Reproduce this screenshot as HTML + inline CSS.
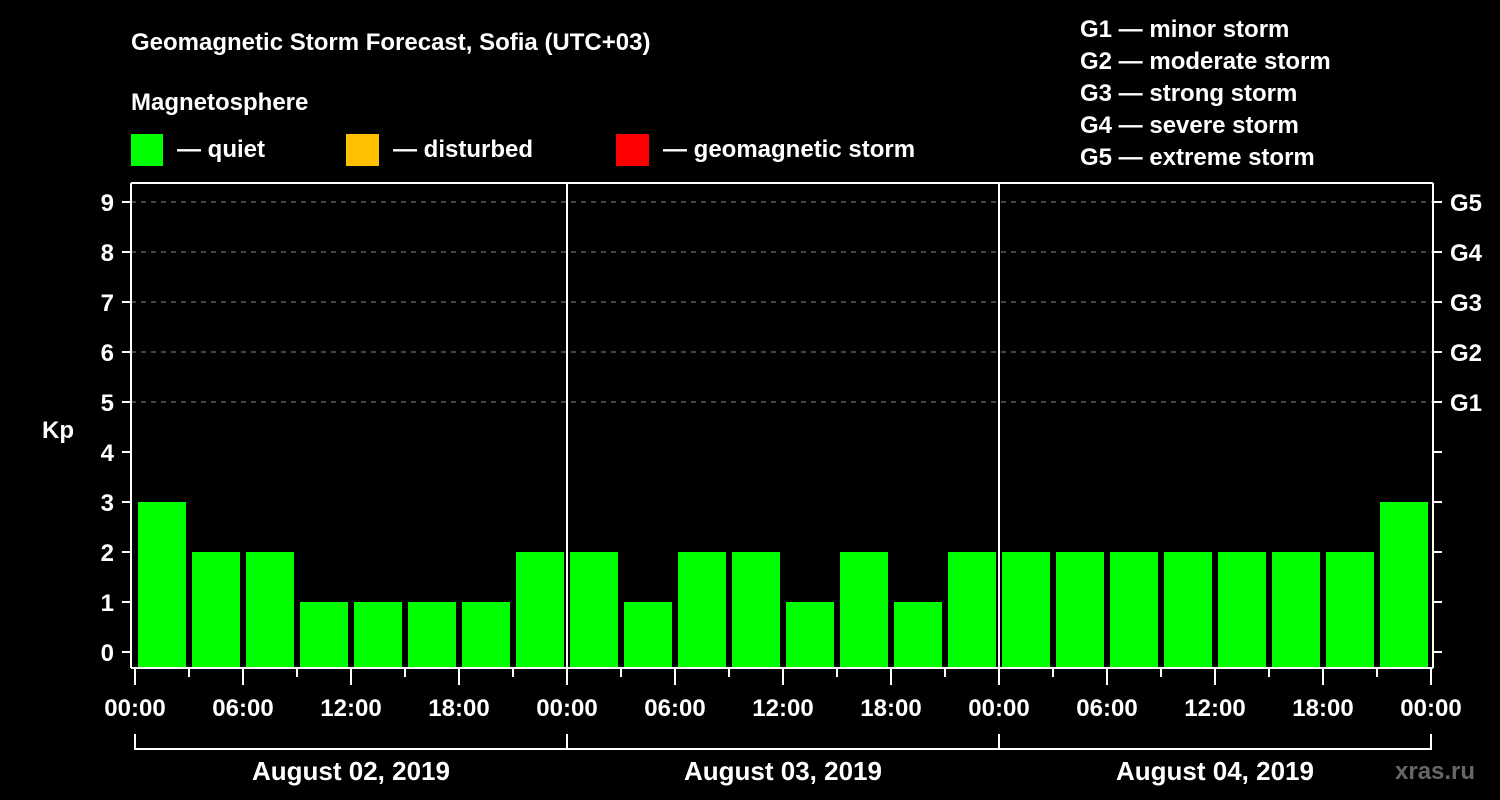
<!DOCTYPE html>
<html><head><meta charset="utf-8"><style>
body{margin:0;background:#000;}
svg{display:block;font-family:"Liberation Sans",Arial,sans-serif;font-weight:bold;}
</style></head><body>
<svg id="c" width="1500" height="800" viewBox="0 0 1500 800">
<rect width="1500" height="800" fill="#000"/>
<text x="131" y="50" font-size="24" fill="#fff">Geomagnetic Storm Forecast, Sofia (UTC+03)</text>
<text x="131" y="110" font-size="24" fill="#fff">Magnetosphere</text>
<g><rect x="131" y="134" width="32" height="32" fill="#00ff00"/><text x="177" y="157" font-size="24" fill="#fff">— quiet</text></g>
<g><rect x="346" y="134" width="33" height="32" fill="#ffc000"/><text x="393" y="157" font-size="24" fill="#fff">— disturbed</text></g>
<g><rect x="616" y="134" width="33" height="32" fill="#ff0000"/><text x="663" y="157" font-size="24" fill="#fff">— geomagnetic storm</text></g>
<g font-size="24" fill="#fff">
<text x="1080" y="37">G1 — minor storm</text>
<text x="1080" y="69">G2 — moderate storm</text>
<text x="1080" y="101">G3 — strong storm</text>
<text x="1080" y="133">G4 — severe storm</text>
<text x="1080" y="165">G5 — extreme storm</text>
</g>
<text x="42" y="438" font-size="24" fill="#fff">Kp</text>
<text x="1395" y="779" font-size="24" fill="#666">xras.ru</text>
<g id="g"></g>
</svg>
<script>
const days = ["August 02, 2019","August 03, 2019","August 04, 2019"];
const kpValues = [3,2,2,1,1,1,1,2, 2,1,2,2,1,2,1,2, 2,2,2,2,2,2,2,3];
const yTicks = [0,1,2,3,4,5,6,7,8,9];
const gLabels = ["G1","G2","G3","G4","G5"];
const hourLabels = ["00:00","06:00","12:00","18:00"];
const NS="http://www.w3.org/2000/svg";
const g=document.getElementById('g');
const X0=135, SLOT=54, TOP=183, BOT=668, AXL=131, AXR=1433;
const x=i=>X0+i*SLOT;
const y=v=>652-50*v;
function mk(t,a,p){const e=document.createElementNS(NS,t);for(const k in a)e.setAttribute(k,a[k]);(p||g).appendChild(e);return e;}
// gridlines
for(let v=5;v<=9;v++){const l=mk('line',{x1:AXL,x2:AXR,y1:y(v),y2:y(v),stroke:'#888','stroke-dasharray':'5,5','stroke-width':1});

}
// bars
kpValues.forEach((v,i)=>{const r=mk('rect',{x:x(i)+3,y:y(v),width:48,height:BOT-y(v),fill:v>=5?'#ff0000':(v>=4?'#ffc000':'#00ff00')});

});
// frame
mk('line',{x1:AXL,x2:AXR,y1:TOP,y2:TOP,stroke:'#fff','stroke-width':2});
mk('line',{x1:AXL,x2:AXR,y1:BOT,y2:BOT,stroke:'#fff','stroke-width':2});
mk('line',{x1:AXL,x2:AXL,y1:TOP,y2:BOT,stroke:'#fff','stroke-width':2});
mk('line',{x1:AXR,x2:AXR,y1:TOP,y2:BOT,stroke:'#fff','stroke-width':2});
// day dividers
for(let d=1;d<days.length;d++){const l=mk('line',{x1:x(d*8),x2:x(d*8),y1:TOP,y2:BOT,stroke:'#fff','stroke-width':2});

}
// y ticks
yTicks.forEach(v=>{mk('line',{x1:122,x2:AXL,y1:y(v),y2:y(v),stroke:'#fff','stroke-width':2});
mk('line',{x1:AXR,x2:1442,y1:y(v),y2:y(v),stroke:'#fff','stroke-width':2});
const t=mk('text',{x:114,y:y(v)+9,'text-anchor':'end','font-size':24,fill:'#fff'});t.textContent=v;

});
gLabels.forEach((s,i)=>{const t=mk('text',{x:1450,y:y(5+i)+9,'font-size':24,fill:'#fff'});t.textContent=s;

});
// x ticks
for(let i=0;i<=24;i++){const major=i%2===0;mk('line',{x1:x(i),x2:x(i),y1:BOT,y2:major?685:677,stroke:'#fff','stroke-width':2});
if(major){const t=mk('text',{x:x(i),y:716,'text-anchor':'middle','font-size':24,fill:'#fff'});t.textContent=hourLabels[(i/2)%4];

}}
// day brackets
days.forEach((d,k)=>{mk('line',{x1:x(k*8),x2:x(k*8+8),y1:749,y2:749,stroke:'#fff','stroke-width':2});
mk('line',{x1:x(k*8),x2:x(k*8),y1:734,y2:750,stroke:'#fff','stroke-width':2});
if(k===days.length-1)mk('line',{x1:x(24),x2:x(24),y1:734,y2:750,stroke:'#fff','stroke-width':2});
const t=mk('text',{x:x(k*8+4),y:780,'text-anchor':'middle','font-size':26,fill:'#fff'});t.textContent=d;

});
</script>
</body></html>
